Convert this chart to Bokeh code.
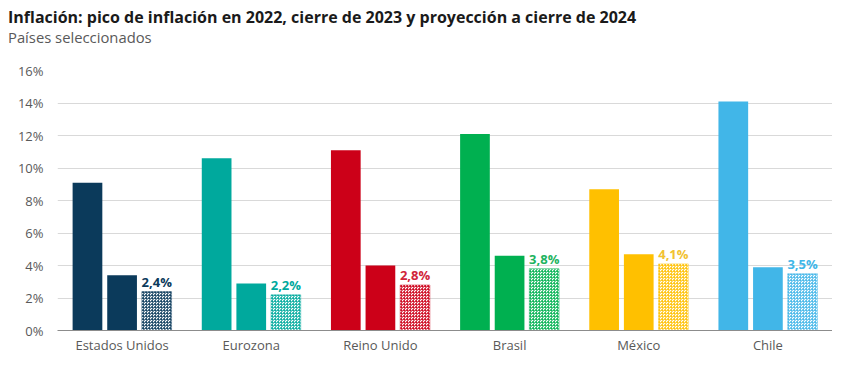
from bokeh.plotting import figure
from bokeh.models import ColumnDataSource, FactorRange, Div, FixedTicker, CustomJSTickFormatter
from bokeh.layouts import column
from bokeh.transform import dodge
from bokeh.embed import file_html
from bokeh.resources import INLINE
from bokeh.core.properties import value

countries = ["Estados Unidos", "Eurozona", "Reino Unido", "Brasil", "México", "Chile"]
peak_2022 = [9.1, 10.6, 11.1, 12.1, 8.7, 14.1]
close_2023 = [3.4, 2.9, 4.0, 4.6, 4.7, 3.9]
proj_2024 = [2.4, 2.2, 2.8, 3.8, 4.1, 3.5]
colors = ["#0B3A5B", "#00A99D", "#CC0018", "#00B050", "#FFC000", "#41B6E8"]
label_colors = ["#0B3A5B", "#00A99D", "#D0243A", "#1DB360", "#F2C231", "#41B6E8"]
y_ticks = [0, 2, 4, 6, 8, 10, 12, 14, 16]

title_text = "Inflación: pico de inflación en 2022, cierre de 2023 y proyección a cierre de 2024"
subtitle_text = "Países seleccionados"

FONT = "Open Sans"

src = ColumnDataSource(dict(
    country=countries, peak=peak_2022, close=close_2023, proj=proj_2024,
    color=colors, lcolor=label_colors,
    label=[f"{v:.1f}".replace(".", ",") + "%" for v in proj_2024],
))

W, H = 832, 356
HEAD_H = 56
LEFT, TOP, BOTTOM = 57, 14, 26
Y_MAX = 16

head = Div(
    text=(
        f"<div style=\"padding:7px 0 0 8px; margin:0; font-family:'{FONT}';\">"
        f"<div style=\"font-weight:bold; font-size:16px; line-height:20px; color:#1a1a1a; "
        f"white-space:nowrap; margin:0;\">{title_text}</div>"
        f"<div style=\"font-weight:normal; font-size:14.8px; line-height:20px; color:#595959; "
        f"white-space:nowrap; margin:0;\">{subtitle_text}</div>"
        f"</div>"
    ),
    width=W, height=HEAD_H, margin=0,
)

p = figure(width=W, height=H - HEAD_H, x_range=FactorRange(*countries, range_padding=0),
           y_range=(0, Y_MAX), output_backend="svg", toolbar_location=None,
           min_border_left=LEFT, min_border_right=0, min_border_top=TOP,
           min_border_bottom=BOTTOM, margin=0)
p.outline_line_color = None
p.background_fill_color = "white"
p.border_fill_color = "white"

bw = 0.23
off = 0.268
p.vbar(x=dodge("country", -off, range=p.x_range), top="peak", width=bw, source=src,
       fill_color="color", line_color=None)
p.vbar(x=dodge("country", 0, range=p.x_range), top="close", width=bw, source=src,
       fill_color="color", line_color=None)
p.vbar(x=dodge("country", off, range=p.x_range), top="proj", width=bw, source=src,
       fill_color="white", line_color="color", line_width=1, line_alpha=0.45,
       hatch_pattern="criss_cross", hatch_color="color", hatch_scale=3, hatch_weight=1,
       hatch_alpha=0.65)
p.text(x=dodge("country", off, range=p.x_range), y="proj", text="label", source=src,
       text_color="lcolor", text_align="center", text_baseline="bottom",
       text_font=value(FONT), text_font_style="bold", text_font_size="13px", y_offset=-1)

p.yaxis.ticker = FixedTicker(ticks=y_ticks)
p.yaxis.formatter = CustomJSTickFormatter(code="return tick.toFixed(0) + '%';")
p.yaxis.axis_line_color = None
p.yaxis.major_tick_line_color = None
p.yaxis.minor_tick_line_color = None
p.yaxis.major_tick_out = 0
p.yaxis.major_label_text_font = FONT
p.yaxis.major_label_text_font_size = "13px"
p.yaxis.major_label_text_color = "#595959"
p.yaxis.major_label_standoff = 14

p.xaxis.axis_line_color = "#8c8c8c"
p.xaxis.axis_line_width = 1
p.xaxis.major_tick_line_color = None
p.xaxis.minor_tick_line_color = None
p.xaxis.major_tick_out = 0
p.xaxis.major_label_text_font = FONT
p.xaxis.major_label_text_font_size = "13px"
p.xaxis.major_label_text_color = "#595959"
p.xaxis.major_label_standoff = 5

p.xgrid.grid_line_color = None
p.ygrid.grid_line_color = "#d9d9d9"
p.ygrid.grid_line_width = 1

layout = column(head, p, spacing=0, margin=0)
open("out.html", "w").write(file_html(layout, INLINE))
